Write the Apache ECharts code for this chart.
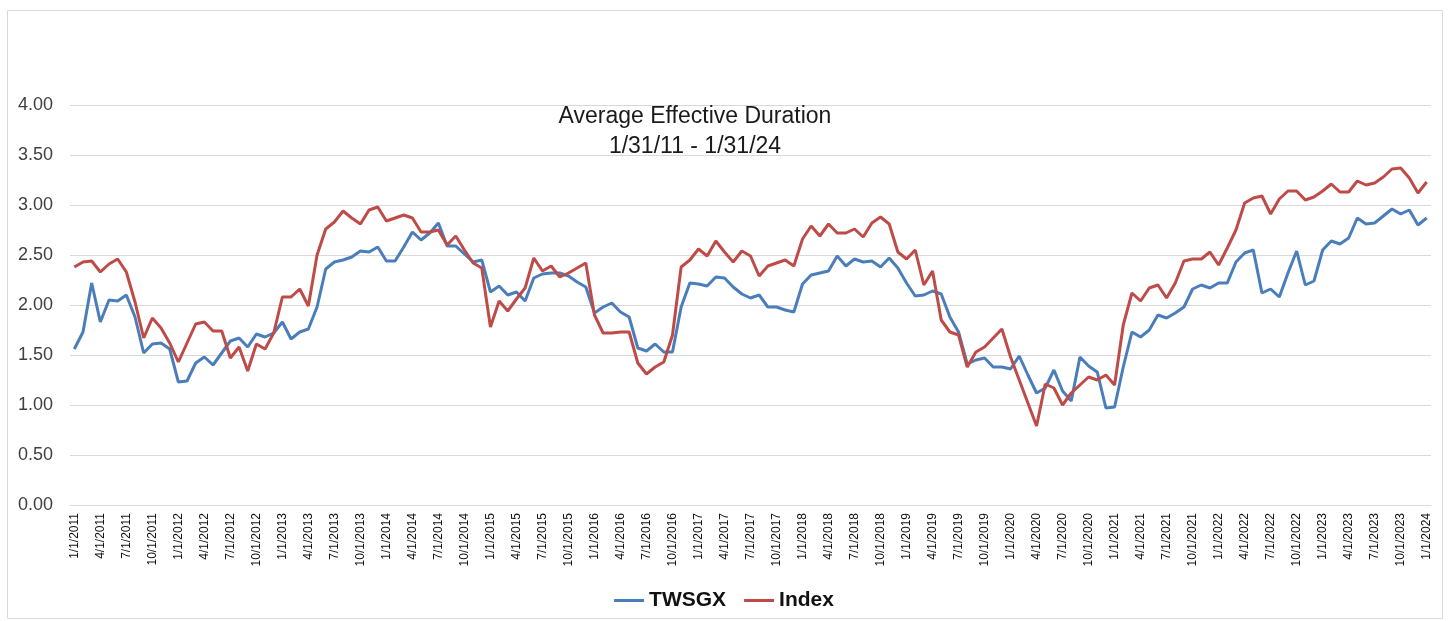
<!DOCTYPE html>
<html lang="en">
<head>
    <meta charset="UTF-8">
    <title>Average Effective Duration</title>
    <script src="https://cdn.jsdelivr.net/npm/echarts@6.0.0/dist/echarts.min.js"></script>
    <style>
        html, body { margin: 0; padding: 0; background: #fff; }
        #main { width: 1448px; height: 621px; }
    </style>
</head>
<body>
<div id="main"></div>
<script>
    // monthly points, Jan 2011 .. Jan 2024
    var startYear = 2011;
    var monthCount = 157;

    var twsgx = [
        1.56, 1.73, 2.22, 1.83, 2.05, 2.04, 2.10, 1.88, 1.52, 1.61, 1.62, 1.56,
        1.23, 1.24, 1.42, 1.48, 1.40, 1.52, 1.64, 1.67, 1.58, 1.71, 1.68, 1.72,
        1.83, 1.66, 1.73, 1.76, 1.98, 2.36, 2.43, 2.45, 2.48, 2.54, 2.53, 2.58,
        2.44, 2.44, 2.58, 2.73, 2.65, 2.72, 2.82, 2.59, 2.59, 2.51, 2.43, 2.45,
        2.13, 2.19, 2.10, 2.13, 2.04, 2.27, 2.31, 2.32, 2.32, 2.29, 2.23, 2.18,
        1.92, 1.98, 2.02, 1.93, 1.88, 1.57, 1.54, 1.61, 1.53, 1.53, 1.98, 2.22,
        2.21, 2.19, 2.28, 2.27, 2.18, 2.11, 2.07, 2.10, 1.98, 1.98, 1.95, 1.93,
        2.21, 2.30, 2.32, 2.34, 2.49, 2.39, 2.46, 2.43, 2.44, 2.38, 2.47, 2.37,
        2.22, 2.09, 2.10, 2.14, 2.11, 1.88, 1.73, 1.41, 1.45, 1.47, 1.38, 1.38,
        1.36, 1.49, 1.30, 1.12, 1.17, 1.35, 1.14, 1.04, 1.48, 1.39, 1.33, 0.97,
        0.98, 1.38, 1.73, 1.68, 1.75, 1.90, 1.87, 1.92, 1.98, 2.16, 2.20, 2.17,
        2.22, 2.22, 2.43, 2.52, 2.55, 2.12, 2.16, 2.08, 2.32, 2.54, 2.20, 2.24,
        2.55, 2.64, 2.61, 2.67, 2.87, 2.81, 2.82, 2.89, 2.96, 2.91, 2.95, 2.80,
        2.87
    ];

    var indexData = [
        2.38, 2.43, 2.44, 2.33, 2.41, 2.46, 2.33, 2.03, 1.67, 1.87, 1.77, 1.62,
        1.43, 1.62, 1.81, 1.83, 1.74, 1.74, 1.47, 1.58, 1.34, 1.61, 1.56, 1.72,
        2.08, 2.08, 2.16, 1.99, 2.50, 2.76, 2.83, 2.94, 2.87, 2.81, 2.95, 2.98,
        2.84, 2.87, 2.90, 2.87, 2.73, 2.73, 2.75, 2.60, 2.69, 2.55, 2.42, 2.37,
        1.78, 2.04, 1.94, 2.06, 2.17, 2.47, 2.34, 2.39, 2.28, 2.32, 2.37, 2.42,
        1.90, 1.72, 1.72, 1.73, 1.73, 1.42, 1.31, 1.38, 1.43, 1.70, 2.38, 2.45,
        2.56, 2.49, 2.64, 2.53, 2.43, 2.54, 2.49, 2.29, 2.39, 2.42, 2.45, 2.39,
        2.66, 2.79, 2.69, 2.81, 2.72, 2.72, 2.76, 2.68, 2.82, 2.88, 2.81, 2.53,
        2.46, 2.55, 2.20, 2.34, 1.85, 1.73, 1.70, 1.38, 1.53, 1.58, 1.67, 1.76,
        1.48, 1.25, 1.02, 0.79, 1.21, 1.17, 1.00, 1.12, 1.20, 1.28, 1.25, 1.30,
        1.20, 1.80, 2.12, 2.04, 2.17, 2.20, 2.07, 2.22, 2.44, 2.46, 2.46, 2.53,
        2.40, 2.57, 2.75, 3.02, 3.07, 3.09, 2.91, 3.06, 3.14, 3.14, 3.05, 3.08,
        3.14, 3.21, 3.13, 3.13, 3.24, 3.20, 3.22, 3.28, 3.36, 3.37, 3.27, 3.12,
        3.23
    ];

    var dates = [];
    for (var i = 0; i < monthCount; i++) {
        var m = i % 12 + 1;
        var y = startYear + Math.floor(i / 12);
        dates.push(m + '/1/' + y);
    }

    var myChart = echarts.init(document.getElementById('main'));

    var option = {
        animation: false,
        backgroundColor: '#fff',
        title: {
            text: 'Average Effective Duration\n1/31/11 - 1/31/24',
            left: 690,
            top: 97,
            textAlign: 'center',
            textStyle: {
                fontFamily: 'Liberation Sans',
                fontSize: 23,
                fontWeight: 'normal',
                lineHeight: 30,
                color: '#1a1a1a'
            }
        },
        legend: {
            data: ['TWSGX', 'Index'],
            left: 'center',
            top: 585,
            icon: 'rect',
            itemWidth: 30,
            itemHeight: 3,
            itemGap: 18,
            textStyle: {
                fontFamily: 'Liberation Sans',
                fontSize: 21,
                fontWeight: 'bold',
                color: '#111'
            }
        },
        grid: {
            left: 70,
            right: 17,
            top: 105,
            bottom: 116,
            containLabel: false,
            outerBoundsMode: 'none'
        },
        xAxis: {
            type: 'category',
            data: dates,
            boundaryGap: true,
            axisTick: {show: false},
            axisLine: {lineStyle: {color: '#d9d9d9', width: 1}},
            axisLabel: {
                interval: 2,
                rotate: 90,
                margin: 8,
                fontFamily: 'Liberation Sans',
                fontSize: 12,
                color: '#111'
            },
            splitLine: {show: false}
        },
        yAxis: {
            type: 'value',
            min: 0,
            max: 4,
            interval: 0.5,
            axisLine: {show: false},
            axisTick: {show: false},
            axisLabel: {
                margin: 17,
                fontFamily: 'Liberation Sans',
                fontSize: 18,
                color: '#404040',
                formatter: function (v) { return v.toFixed(2); }
            },
            splitLine: {lineStyle: {color: '#d9d9d9', width: 1}}
        },
        graphic: [{
            type: 'rect',
            shape: {x: 7.5, y: 10.5, width: 1435, height: 608},
            style: {fill: 'none', stroke: '#d9d9d9', lineWidth: 1},
            silent: true
        }],
        series: [
            {
                name: 'TWSGX',
                type: 'line',
                data: twsgx,
                symbol: 'none',
                color: '#4a7ebb',
                lineStyle: {width: 3, color: '#4a7ebb'}
            },
            {
                name: 'Index',
                type: 'line',
                data: indexData,
                symbol: 'none',
                color: '#be4b48',
                lineStyle: {width: 3, color: '#be4b48'}
            }
        ]
    };

    myChart.setOption(option);
</script>
</body>
</html>
